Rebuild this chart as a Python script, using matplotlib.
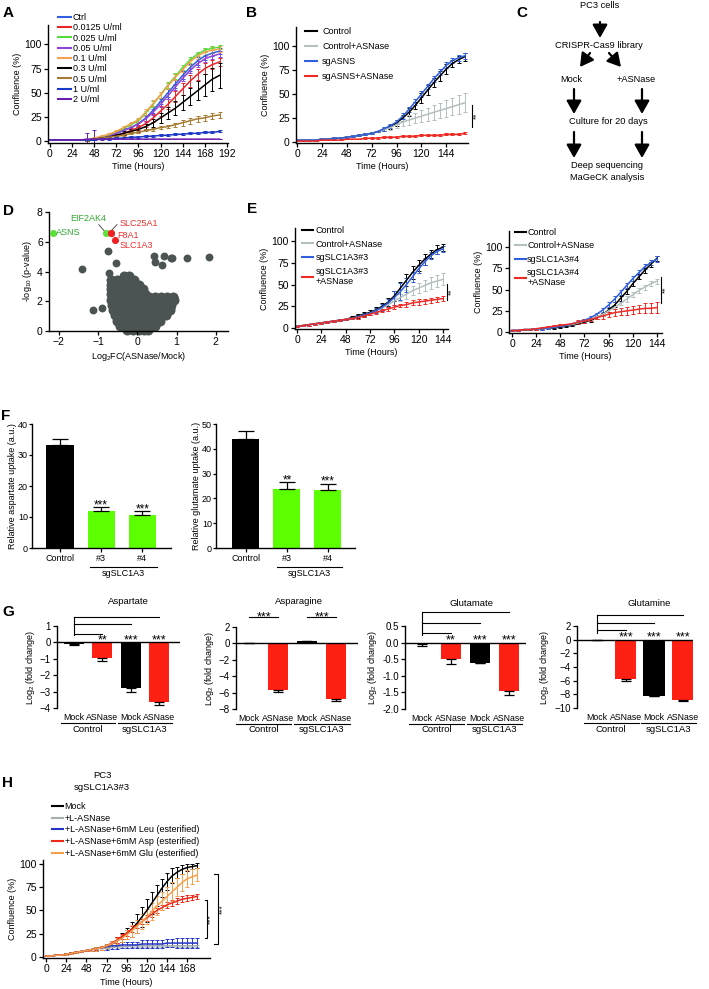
import numpy as np
import matplotlib.pyplot as plt
from matplotlib import transforms as mtrans

plt.rcParams['font.family'] = ['Liberation Sans', 'DejaVu Sans']
plt.rcParams['font.size'] = 6.5
plt.rcParams['mathtext.default'] = 'regular'
plt.rcParams['axes.linewidth'] = 1.0
plt.rcParams['xtick.major.width'] = 0.9
plt.rcParams['ytick.major.width'] = 0.9
plt.rcParams['xtick.major.size'] = 3
plt.rcParams['ytick.major.size'] = 3
plt.rcParams['xtick.major.pad'] = 1.5
plt.rcParams['ytick.major.pad'] = 1.5
plt.rcParams['xtick.labelsize'] = 7.5
plt.rcParams['ytick.labelsize'] = 7.5
plt.rcParams['axes.labelpad'] = 2

# ---------------- data ----------------
# A: dose response of ASNase
t_a = [0, 8, 16, 24, 32, 40, 48, 56, 64, 72, 80, 88, 96, 104, 112, 120, 128, 136, 144, 152, 160, 168, 176, 184]
doses = ['Ctrl', '0.0125 U/ml', '0.025 U/ml', '0.05 U/ml', '0.1 U/ml', '0.3 U/ml', '0.5 U/ml', '1 U/ml', '2 U/ml']
a_ctrl = [1, 1, 1, 1, 1, 1, 2, 3, 5, 8, 11, 14, 18, 24, 32, 41, 50, 59, 68, 76, 83, 88, 91, 93]
a_0125 = [1, 1, 1, 1, 1, 1, 2, 3, 4, 6, 8, 11, 14, 18, 24, 31, 38, 46, 54, 62, 69, 75, 79, 82]
a_025 = [1, 1, 1, 1, 1, 1, 2, 4, 6, 9, 13, 17, 21, 29, 38, 48, 58, 67, 76, 84, 90, 94, 96, 97]
a_05 = [1, 1, 1, 1, 1, 1, 2, 3, 5, 8, 11, 14, 18, 23, 30, 38, 47, 56, 65, 73, 80, 85, 88, 90]
a_1 = [1, 1, 1, 1, 1, 1, 3, 5, 7, 10, 14, 18, 22, 30, 39, 48, 57, 66, 74, 82, 88, 92, 94, 95]
a_3 = [1, 1, 1, 1, 1, 1, 2, 3, 4, 6, 8, 10, 12, 15, 19, 24, 29, 34, 40, 46, 52, 58, 64, 68]
a_5 = [1, 1, 1, 1, 1, 1, 2, 3, 4, 5, 6, 8, 9, 11, 12, 14, 15, 17, 19, 21, 23, 24, 26, 27]
a_10 = [1, 1, 1, 1, 1, 1, 1, 2, 2, 3, 3, 4, 4, 5, 5, 6, 6, 7, 7, 8, 8, 9, 9, 10]
a_20 = [1, 1, 1, 1, 1, 2, 2, 2, 2, 2, 2, 2, 2, 2, 2, 2, 2, 2, 2, 2, 2, 2, 2, 2]
ea_ctrl = [0, 0, 0, 0, 0, 1, 1, 1, 1, 1, 2, 2, 2, 3, 3, 3, 4, 4, 4, 4, 4, 4, 3, 3]
ea_0125 = [0, 0, 0, 0, 0, 1, 1, 1, 1, 1, 2, 2, 3, 3, 4, 5, 5, 6, 6, 6, 6, 6, 5, 4]
ea_025 = [0, 0, 0, 0, 0, 1, 1, 1, 1, 1, 1, 2, 2, 2, 3, 3, 3, 3, 3, 3, 2, 2, 2, 2]
ea_05 = [0, 0, 0, 0, 0, 1, 1, 1, 1, 1, 2, 2, 2, 3, 3, 3, 3, 3, 3, 3, 3, 3, 3, 3]
ea_1 = [0, 0, 0, 0, 0, 1, 1, 1, 1, 1, 2, 2, 2, 3, 3, 3, 3, 3, 3, 3, 3, 3, 3, 3]
ea_3 = [0, 0, 0, 0, 0, 1, 1, 1, 1, 1, 2, 2, 3, 3, 4, 5, 6, 7, 8, 9, 10, 11, 12, 13]
ea_5 = [0, 0, 0, 0, 0, 1, 1, 1, 1, 1, 1, 1, 1, 1, 2, 2, 2, 2, 3, 3, 3, 3, 3, 3]
ea_10 = [0, 0, 0, 0, 0, 0, 0, 0, 1, 1, 1, 1, 1, 1, 1, 1, 1, 1, 1, 1, 1, 1, 1, 1]
ea_20 = [0, 0, 0, 0, 0, 6, 9, 1, 0, 0, 0, 0, 0, 0, 0, 0, 0, 0, 0, 0, 0, 0, 0, 0]

# B: sgASNS
t_b = [0, 6, 12, 18, 24, 30, 36, 42, 48, 54, 60, 66, 72, 78, 84, 90, 96, 102, 108, 114, 120, 126, 132, 138, 144, 150, 156, 162]
b_labels = ['Control', 'Control+ASNase', 'sgASNS', 'sgASNS+ASNase']
b_ctrl = [2, 2, 2, 2, 3, 3, 4, 4, 5, 6, 7, 8, 9, 11, 13, 16, 20, 25, 31, 38, 46, 54, 62, 69, 76, 82, 86, 89]
b_ctrl_as = [2, 2, 2, 2, 3, 3, 4, 4, 5, 6, 7, 8, 9, 11, 13, 15, 18, 21, 23, 25, 27, 29, 31, 33, 35, 37, 39, 41]
b_sg = [2, 2, 2, 2, 3, 3, 4, 4, 5, 6, 7, 8, 9, 11, 14, 17, 21, 27, 34, 42, 50, 58, 66, 73, 80, 85, 88, 90]
b_sg_as = [1, 1, 1, 1, 2, 2, 2, 2, 3, 3, 3, 4, 4, 4, 5, 5, 5, 6, 6, 6, 7, 7, 7, 7, 8, 8, 8, 9]
eb_ctrl = [1, 1, 1, 1, 1, 1, 1, 1, 1, 1, 1, 1, 1, 1, 2, 2, 3, 3, 4, 4, 5, 5, 5, 5, 5, 4, 4, 4]
eb_ctrl_as = [1, 1, 1, 1, 1, 1, 1, 1, 1, 1, 1, 1, 1, 1, 2, 2, 3, 4, 5, 5, 6, 7, 8, 8, 9, 9, 10, 10]
eb_sg = [1, 1, 1, 1, 1, 1, 1, 1, 1, 1, 1, 1, 1, 1, 2, 2, 2, 3, 3, 3, 3, 3, 3, 3, 3, 3, 3, 3]
eb_sg_as = [0, 0, 0, 0, 0, 0, 0, 0, 0, 0, 0, 1, 1, 1, 1, 1, 1, 1, 1, 1, 1, 1, 1, 1, 1, 1, 1, 1]

# D: screen volcano
blob_rows = [
    (3.7, [-0.35, -0.22]),
    (3.4, [-0.66, -0.51, -0.36, -0.21, -0.08]),
    (3.1, [-0.68, -0.53, -0.38, -0.23, -0.08, 0.05]),
    (2.8, [-0.68, -0.53, -0.38, -0.23, -0.08, 0.07, 0.15]),
    (2.5, [-0.68, -0.53, -0.38, -0.23, -0.08, 0.07, 0.2]),
    (2.3, [0.3, 0.45, 0.6, 0.75, 0.9]),
    (2.1, [-0.67, -0.52, -0.37, -0.22, -0.07, 0.08, 0.23, 0.38, 0.53, 0.68, 0.83, 0.94]),
    (1.75, [-0.65, -0.5, -0.35, -0.2, -0.05, 0.1, 0.25, 0.4, 0.55, 0.7, 0.87]),
    (1.4, [-0.62, -0.47, -0.32, -0.17, -0.02, 0.13, 0.28, 0.43, 0.58, 0.72, 0.82]),
    (1.05, [-0.58, -0.43, -0.28, -0.13, 0.02, 0.17, 0.32, 0.47, 0.62, 0.72]),
    (0.7, [-0.52, -0.37, -0.22, -0.07, 0.08, 0.23, 0.38, 0.53, 0.58]),
    (0.35, [-0.45, -0.3, -0.15, 0.0, 0.15, 0.3, 0.45]),
    (0.05, [-0.27, -0.12, 0.03, 0.18, 0.27]),
]
out_fc = [-1.41, -0.74, -0.55, -0.72, -1.12, -0.9, 0.42, 0.45, 0.68, 0.62, 0.85, 1.27, 1.83, 0.88, 0.87, 0.93]
out_p = [4.2, 5.37, 4.54, 3.87, 1.41, 1.57, 5.03, 4.65, 5.03, 4.43, 4.93, 4.93, 4.99, 4.9, 1.52, 2.26]
green_genes = ['ASNS', 'EIF2AK4']
green_fc = [-2.15, -0.8]
green_p = [6.6, 6.6]
red_genes = ['SLC25A1', 'F8A1', 'SLC1A3']
red_fc = [-0.68, -0.66, -0.57]
red_p = [6.62, 6.58, 6.1]

# E: sgSLC1A3
t_e = [0, 6, 12, 18, 24, 30, 36, 42, 48, 54, 60, 66, 72, 78, 84, 90, 96, 102, 108, 114, 120, 126, 132, 138, 144]
e3_labels = ['Control', 'Control+ASNase', 'sgSLC1A3#3', 'sgSLC1A3#3\n+ASNase']
e4_labels = ['Control', 'Control+ASNase', 'sgSLC1A3#4', 'sgSLC1A3#4\n+ASNase']
e3_ctrl = [2, 3, 4, 5, 6, 7, 8, 9, 10, 12, 14, 16, 18, 21, 25, 30, 37, 46, 55, 64, 72, 79, 85, 90, 93]
e3_ctrl_as = [2, 3, 4, 5, 6, 7, 8, 9, 10, 11, 13, 15, 17, 20, 23, 27, 31, 35, 39, 43, 46, 49, 52, 54, 56]
e3_sg = [2, 3, 4, 5, 6, 7, 8, 9, 10, 11, 13, 15, 17, 20, 24, 29, 35, 42, 50, 59, 68, 76, 83, 88, 91]
e3_sg_as = [2, 3, 4, 5, 6, 7, 8, 9, 10, 11, 12, 14, 16, 18, 20, 22, 24, 26, 27, 29, 30, 31, 32, 33, 34]
ee3_ctrl = [1, 1, 1, 1, 1, 1, 1, 1, 1, 2, 2, 2, 3, 3, 4, 5, 6, 7, 7, 7, 6, 6, 5, 5, 4]
ee3_ctrl_as = [1, 1, 1, 1, 1, 1, 1, 1, 1, 1, 2, 2, 2, 2, 3, 3, 4, 4, 5, 5, 6, 6, 7, 7, 7]
ee3_sg = [1, 1, 1, 1, 1, 1, 1, 1, 1, 1, 2, 2, 2, 3, 4, 5, 8, 10, 8, 6, 5, 4, 4, 3, 3]
ee3_sg_as = [1, 1, 1, 1, 1, 1, 1, 1, 1, 1, 1, 1, 1, 2, 2, 2, 2, 2, 3, 3, 3, 3, 3, 3, 3]
e4_ctrl = [2, 2, 3, 3, 4, 4, 5, 5, 6, 7, 8, 10, 12, 14, 17, 21, 26, 32, 40, 48, 57, 65, 73, 80, 87]
e4_ctrl_as = [2, 2, 3, 3, 4, 4, 5, 6, 7, 8, 9, 11, 13, 15, 18, 21, 25, 29, 34, 39, 44, 49, 53, 57, 60]
e4_sg = [2, 2, 3, 3, 4, 4, 5, 6, 7, 8, 10, 12, 14, 17, 21, 26, 32, 39, 47, 55, 63, 70, 77, 82, 86]
e4_sg_as = [2, 2, 3, 3, 4, 5, 6, 7, 8, 9, 10, 12, 13, 15, 17, 19, 21, 23, 24, 25, 26, 27, 28, 28, 29]
ee4_ctrl = [1, 1, 1, 1, 1, 1, 1, 1, 1, 1, 1, 1, 1, 2, 2, 2, 2, 3, 3, 3, 3, 3, 3, 3, 3]
ee4_ctrl_as = [1, 1, 1, 1, 1, 1, 1, 1, 1, 1, 1, 1, 1, 1, 2, 2, 2, 2, 2, 3, 3, 3, 3, 3, 3]
ee4_sg = [1, 1, 1, 1, 1, 1, 1, 1, 1, 1, 1, 1, 2, 2, 2, 2, 3, 3, 3, 3, 3, 3, 3, 3, 3]
ee4_sg_as = [1, 1, 1, 1, 1, 1, 1, 1, 1, 1, 1, 2, 2, 2, 2, 3, 3, 4, 4, 5, 5, 5, 6, 6, 6]

# F: uptake
f_groups = ['Control', '#3', '#4']
asp_uptake = [33.3, 12.0, 10.7]
asp_uptake_err = [2.0, 1.3, 1.2]
asp_uptake_sig = ['', '***', '***']
glu_uptake = [44.0, 23.6, 23.2]
glu_uptake_err = [3.0, 3.0, 2.8]
glu_uptake_sig = ['', '**', '***']

# G: metabolite fold changes
g_conditions = ['Mock', 'ASNase', 'Mock', 'ASNase']
aspartate = [-0.08, -0.93, -2.8, -3.62]
aspartate_err = [0.05, 0.2, 0.2, 0.2]
asparagine = [0.0, -5.65, 0.25, -6.8]
asparagine_err = [0.03, 0.25, 0.08, 0.25]
glutamate = [-0.04, -0.49, -0.6, -1.45]
glutamate_err = [0.05, 0.15, 0.02, 0.12]
glutamine = [-0.05, -5.7, -8.2, -8.9]
glutamine_err = [0.03, 0.3, 0.05, 0.1]
g_sig = ['', '**', '***', '***']
glutamine_sig = ['', '***', '***', '***']

# H: rescue with esterified amino acids
t_h = [0, 6, 12, 18, 24, 30, 36, 42, 48, 54, 60, 66, 72, 78, 84, 90, 96, 102, 108, 114, 120, 126, 132, 138, 144, 150, 156, 162, 168, 174, 180]
h_labels = ['Mock', '+L-ASNase', '+L-ASNase+6mM Leu (esterified)', '+L-ASNase+6mM Asp (esterified)', '+L-ASNase+6mM Glu (esterified)']
h_mock = [1, 1, 2, 2, 3, 4, 5, 6, 7, 8, 9, 10, 12, 14, 17, 21, 25, 30, 36, 43, 50, 58, 66, 74, 81, 87, 91, 94, 96, 97, 98]
h_asn = [1, 1, 2, 2, 3, 4, 5, 6, 7, 8, 9, 9, 10, 10, 11, 11, 11, 12, 12, 12, 12, 12, 12, 12, 12, 12, 12, 12, 12, 12, 12]
h_leu = [1, 1, 2, 2, 3, 4, 5, 6, 7, 8, 9, 10, 11, 12, 12, 13, 13, 13, 13, 14, 14, 14, 14, 14, 15, 15, 15, 15, 15, 15, 15]
h_asp = [1, 1, 2, 2, 3, 4, 5, 6, 7, 8, 9, 10, 12, 15, 18, 22, 26, 30, 34, 38, 42, 46, 50, 53, 56, 58, 60, 62, 63, 64, 65]
h_glu = [1, 1, 2, 2, 3, 4, 5, 6, 7, 8, 9, 10, 12, 14, 17, 20, 24, 28, 33, 38, 43, 49, 55, 60, 65, 70, 75, 80, 84, 86, 88]
eh_mock = [0, 0, 0, 0, 1, 1, 1, 1, 1, 1, 2, 2, 2, 3, 4, 5, 6, 8, 10, 11, 12, 12, 11, 10, 9, 8, 6, 5, 4, 3, 3]
eh_asn = [0, 0, 0, 0, 0, 1, 1, 1, 1, 1, 1, 1, 1, 1, 1, 1, 1, 1, 1, 1, 1, 1, 1, 1, 1, 1, 1, 1, 1, 1, 1]
eh_leu = [0, 0, 0, 0, 0, 1, 1, 1, 1, 1, 2, 2, 3, 3, 3, 3, 3, 3, 3, 4, 4, 4, 4, 4, 4, 4, 5, 5, 5, 5, 5]
eh_asp = [0, 0, 0, 0, 1, 1, 1, 1, 1, 1, 1, 2, 2, 2, 3, 3, 3, 3, 3, 3, 3, 3, 3, 3, 3, 3, 3, 3, 3, 3, 3]
eh_glu = [0, 0, 0, 0, 1, 1, 1, 1, 1, 1, 2, 2, 2, 3, 3, 4, 5, 6, 7, 8, 8, 9, 10, 10, 10, 10, 10, 9, 9, 8, 7]

# colours
blue = '#2f5fdc'
red = '#ee2b24'
gray_c = '#b3c0be'
green_f = '#5cff00'
red_g = '#ff2014'
dose_colors = [blue, '#e8262a', '#55dd3c', '#8e44d8', '#f5a04a', 'black', '#a77c32', '#1c3ac8', '#6a1fb0']

W, H = 709, 989
fig = plt.figure(figsize=(W / 100, H / 100), dpi=100)


def px_axes(l, t, r, b):
    return fig.add_axes([l / W, 1 - b / H, (r - l) / W, (b - t) / H])


def clean(ax):
    ax.spines[['top', 'right']].set_visible(False)


def under(ax, dy):
    # x in data, y = dy pixels below the bottom of the axes
    base = mtrans.blended_transform_factory(ax.transData, ax.transAxes)
    return base + mtrans.ScaledTranslation(0, -dy / 100, fig.dpi_scale_trans)


def growth(ax, t, ys, es, cols):
    hs = []
    for y, e, c in zip(ys, es, cols):
        eb = ax.errorbar(t, y, yerr=e, color=c, lw=1.1, elinewidth=0.7, capsize=1.3, capthick=0.7)
        hs.append(eb[0])
    clean(ax)
    ax.set_xlabel('Time (Hours)')
    ax.set_ylabel('Confluence (%)')
    return hs


def key(ax, hs, labels, x, y, spacing, hl=1.3, pad=0.35):
    leg = ax.legend(hs, labels, loc='upper left', bbox_to_anchor=(x / W, 1 - y / H),
                    bbox_transform=fig.transFigure, frameon=False, borderpad=0, borderaxespad=0,
                    handlelength=hl, handletextpad=pad, labelspacing=spacing, fontsize=6.5)
    for ln in leg.get_lines():
        ln.set_linewidth(1.5)


def side_mark(ax, x, y0, y1, txt, sx, tick=0):
    ax.plot([x - tick, x, x, x - tick], [y0, y0, y1, y1], color='k', lw=0.8, clip_on=False)
    ax.text(sx, (y0 + y1) / 2, txt, rotation=90, ha='center', va='center', fontsize=6)


# ---------------- A ----------------
ax = px_axes(48, 25, 228, 143)
hs = growth(ax, t_a, [a_ctrl, a_0125, a_025, a_05, a_1, a_3, a_5, a_10, a_20],
            [ea_ctrl, ea_0125, ea_025, ea_05, ea_1, ea_3, ea_5, ea_10, ea_20], dose_colors)
ax.set_xlim(-2, 193)
ax.set_ylim(-2, 120)
ax.set_xticks([0, 24, 48, 72, 96, 120, 144, 168, 192])
ax.set_yticks([0, 25, 50, 75, 100])
key(ax, hs, doses, 58, 13, 0.14, hl=1.4, pad=0.25)

# ---------------- B ----------------
ax = px_axes(296, 27, 468, 143)
hs = growth(ax, t_b, [b_ctrl, b_ctrl_as, b_sg, b_sg_as], [eb_ctrl, eb_ctrl_as, eb_sg, eb_sg_as],
            ['black', gray_c, blue, red])
ax.set_xlim(-1, 165)
ax.set_ylim(-1, 120)
ax.set_xticks([0, 24, 48, 72, 96, 120, 144])
ax.set_yticks([0, 25, 50, 75, 100])
key(ax, hs, b_labels, 305, 27, 0.68, hl=1.35, pad=0.55)
side_mark(ax, 169, 38.5, 15.6, '**', 173.5)

# ---------------- D ----------------
ax = px_axes(49, 212, 228, 331)
bx = [x for y, xs in blob_rows for x in xs]
by = [y for y, xs in blob_rows for x in xs]
dark = '#4b5452'
ax.scatter(bx, by, s=52, color=dark, lw=0, clip_on=False)
ax.scatter(out_fc, out_p, s=32, color=dark, lw=0)
ax.scatter(green_fc, green_p, s=26, color='#5ce03a', lw=0, zorder=3)
ax.scatter(red_fc, red_p, s=26, color='#ee2222', lw=0, zorder=3)
ax.set_xlim(-2.25, 2.31)
ax.set_ylim(0, 8)
ax.set_xticks([-2, -1, 0, 1, 2])
ax.set_yticks([0, 2, 4, 6, 8])
clean(ax)
ax.set_xlabel('Log$_2$FC(ASNase/Mock)')
ax.set_ylabel('-log$_{10}$ (p-value)')
gtxt = '#33a532'
rtxt = '#ee3030'
ax.text(-2.07, 6.6, green_genes[0], color=gtxt, fontsize=6.5, va='center', ha='left')
ax.text(-1.26, 7.58, green_genes[1], color=gtxt, fontsize=6.5, va='center', ha='center')
ax.text(-0.45, 7.25, red_genes[0], color=rtxt, fontsize=6.5, va='center', ha='left')
ax.text(-0.52, 6.44, red_genes[1], color=rtxt, fontsize=6.5, va='center', ha='left')
ax.text(-0.46, 5.77, red_genes[2], color=rtxt, fontsize=6.5, va='center', ha='left')
ax.plot([-0.98, -0.84], [7.15, 6.72], color='#333333', lw=0.6)
ax.plot([-0.7, -0.52], [6.64, 7.15], color='#333333', lw=0.6)

# ---------------- E ----------------
ax = px_axes(295, 228, 448, 329)
hs = growth(ax, t_e, [e3_ctrl, e3_ctrl_as, e3_sg, e3_sg_as], [ee3_ctrl, ee3_ctrl_as, ee3_sg, ee3_sg_as],
            ['black', gray_c, blue, red])
ax.set_xlim(-2, 149)
ax.set_ylim(-1, 115)
ax.set_xticks([0, 24, 48, 72, 96, 120, 144])
ax.set_yticks([0, 25, 50, 75, 100])
key(ax, hs, e3_labels, 302, 226, 0.5, hl=1.2, pad=0.3)
side_mark(ax, 148, 50.6, 32, '**', 153)

ax = px_axes(509, 231, 662, 333)
hs = growth(ax, t_e, [e4_ctrl, e4_ctrl_as, e4_sg, e4_sg_as], [ee4_ctrl, ee4_ctrl_as, ee4_sg, ee4_sg_as],
            ['black', gray_c, blue, red])
ax.set_xlim(-3, 149)
ax.set_ylim(-1, 119)
ax.set_xticks([0, 24, 48, 72, 96, 120, 144])
ax.set_yticks([0, 25, 50, 75, 100])
key(ax, hs, e4_labels, 515, 228, 0.48, hl=1.2, pad=0.15)
side_mark(ax, 148, 65, 34, '**', 152.5)


# ---------------- F ----------------
def uptake(ax, vals, errs, sig, ylim, yticks, ylabel, x0, x1):
    x = np.arange(3)
    ax.bar(x, vals, width=0.66, color=['black', green_f, green_f], yerr=[[0, 0, 0], errs],
           capsize=5.5, error_kw=dict(lw=0.9, capthick=0.9))
    for xi, v, e, s in zip(x, vals, errs, sig):
        ax.text(xi, v + e - 0.4, s, ha='center', va='baseline', fontsize=8.5)
    clean(ax)
    ax.set_ylim(*ylim)
    ax.set_yticks(yticks)
    ax.set_xticks(x)
    ax.set_xticklabels(f_groups)
    ax.tick_params(labelsize=6.5)
    ax.tick_params(axis='y', length=2.5, pad=0.5)
    ax.set_ylabel(ylabel, fontsize=6.5, labelpad=0.5)
    ax.plot([x0, x1], [0, 0], transform=under(ax, 19), color='k', lw=0.8, clip_on=False)
    ax.text((x0 + x1) / 2, 0, 'sgSLC1A3', transform=under(ax, 26), ha='center', va='center', fontsize=6.5)


ax = px_axes(32, 424, 171, 548)
ax.set_xlim(-0.68, 2.7)
uptake(ax, asp_uptake, asp_uptake_err, asp_uptake_sig, (0, 40), [0, 10, 20, 30, 40],
       'Relative aspartate uptake (a.u.)', 0.73, 2.35)
ax = px_axes(216, 424, 355, 548)
ax.set_xlim(-0.73, 2.66)
uptake(ax, glu_uptake, glu_uptake_err, glu_uptake_sig, (0, 50), [0, 10, 20, 30, 40, 50],
       'Relative glutamate uptake (a.u.)', 0.76, 2.34)


# ---------------- G ----------------
def fold(ax, vals, errs, ylim, yticks, width):
    x = np.arange(4)
    lo = [e if v < 0 else 0 for v, e in zip(vals, errs)]
    hi = [0 if v < 0 else e for v, e in zip(vals, errs)]
    ax.bar(x, vals, width=width, color=['black', red_g, 'black', red_g], yerr=[lo, hi],
           capsize=3.5, error_kw=dict(lw=0.9, capthick=0.9), zorder=2)
    ax.axhline(0, color='k', lw=1.0, zorder=3)
    ax.set_ylim(*ylim)
    ax.set_yticks(yticks)
    ax.spines[['top', 'right', 'bottom']].set_visible(False)
    ax.set_xticks(x)
    ax.set_xticklabels(g_conditions)
    ax.tick_params(axis='x', length=0, pad=3.5, labelsize=6.3)
    ax.tick_params(axis='y', labelsize=7)
    ax.set_ylabel('Log$_2$ (fold change)')
    for a, b, name in [(-0.5, 1.5, 'Control'), (1.5, 3.5, 'sgSLC1A3')]:
        ax.plot([a + 0.04, b - 0.04], [0, 0], transform=under(ax, 15), color='k', lw=0.8, clip_on=False)
        ax.text((a + b) / 2, 0, name, transform=under(ax, 21), ha='center', va='center', fontsize=6.8)


def ladder(ax, levels, vbot):
    # comparisons against the first bar
    ax.plot([0, 0], [levels[0], vbot], color='k', lw=0.8, clip_on=False)
    for lev, end in zip(levels, [3, 2, 1]):
        ax.plot([0, end], [lev, lev], color='k', lw=0.8, clip_on=False)


def stars(ax, sig, y):
    for xi, s in enumerate(sig):
        ax.text(xi, y, s, ha='center', va='baseline', fontsize=9)


ax = px_axes(57, 626, 180, 708)
ax.set_xlim(-0.6, 3.74)
fold(ax, aspartate, aspartate_err, (-4, 1), [-4, -3, -2, -1, 0, 1], 0.7)
ladder(ax, [1.55, 1.12, 0.51], 0.45)
stars(ax, g_sig, -0.06)

ax = px_axes(236, 627, 358, 709)
ax.set_xlim(-0.45, 3.75)
fold(ax, asparagine, asparagine_err, (-8, 2), [-8, -6, -4, -2, 0, 2], 0.7)
for a, b in [(0, 1), (2, 3)]:
    ax.plot([a, b], [3.2, 3.2], color='k', lw=0.8, clip_on=False)
    ax.text((a + b) / 2, 2.75, '***', ha='center', va='baseline', fontsize=9)

ax = px_axes(405, 626, 526, 709)
ax.set_xlim(-0.6, 3.6)
fold(ax, glutamate, glutamate_err, (-2, 0.5), [-2.0, -1.5, -1.0, -0.5, 0.0, 0.5], 0.68)
ax.set_yticklabels(['-2.0', '-1.5', '-1.0', '-0.5', '0.0', '0.5'])
ladder(ax, [0.92, 0.59, 0.29], 0.23)
stars(ax, g_sig, -0.03)

ax = px_axes(577, 626, 693, 708)
ax.set_xlim(-0.7, 3.36)
fold(ax, glutamine, glutamine_err, (-10, 2), [-10, -8, -6, -4, -2, 0, 2], 0.76)
ladder(ax, [3.6, 2.45, 1.4], 1.0)
stars(ax, glutamine_sig, -0.15)

# ---------------- H ----------------
ax = px_axes(43, 860, 210, 958)
hs = growth(ax, t_h, [h_mock, h_asn, h_leu, h_asp, h_glu], [eh_mock, eh_asn, eh_leu, eh_asp, eh_glu],
            ['black', '#a4aeae', '#2435c8', '#ee2a1a', '#f7a04a'])
ax.set_xlim(-3.6, 195)
ax.set_ylim(-1, 104)
ax.set_xticks([0, 24, 48, 72, 96, 120, 144, 168])
ax.set_yticks([0, 25, 50, 75, 100])
ax.xaxis.labelpad = 3
key(ax, hs, h_labels, 52, 802, 0.3, hl=1.2, pad=0.2)
side_mark(ax, 205, 89, 14, '***', 210, tick=5)
side_mark(ax, 192, 61, 20, '***', 196.5, tick=3)

# ---------------- overlay: letters, titles, scheme C ----------------
ov = fig.add_axes([0, 0, 1, 1])
ov.set_xlim(0, W)
ov.set_ylim(H, 0)
ov.axis('off')
for letter, x, y in [('A', 3, 13), ('B', 246, 13), ('C', 516, 13), ('D', 3, 211), ('E', 247, 209),
                     ('F', 1, 416), ('G', 2, 612), ('H', 2, 783)]:
    ov.text(x, y, letter, fontsize=11, fontweight='bold', va='center', ha='left')

for txt, x, y in [('Aspartate', 128, 602), ('Asparagine', 299, 601), ('Glutamate', 472, 603),
                  ('Glutamine', 649, 604), ('PC3', 102, 775), ('sgSLC1A3#3', 102, 787)]:
    ov.text(x, y, txt, ha='center', va='center', fontsize=6.8)

for txt, x, y in [('PC3 cells', 600, 5), ('CRISPR-Cas9 library', 599, 45), ('Mock', 571, 80),
                  ('+ASNase', 636, 80), ('Culture for 20 days', 608, 122), ('Deep sequencing', 607, 166),
                  ('MaGeCK analysis', 607, 177)]:
    ov.text(x, y, txt, ha='center', va='center', fontsize=6.7)

arrows_c = [((600, 22), (600, 38)), ((590, 53), (580, 67)), ((609, 53), (621, 67)),
            ((574, 89), (574, 114)), ((642, 89), (642, 114)), ((574, 132), (574, 158)),
            ((642, 132), (642, 158))]
for (x0, y0), (x1, y1) in arrows_c:
    ov.annotate('', xy=(x1, y1), xytext=(x0, y0),
                arrowprops=dict(arrowstyle='-|>,head_length=0.8,head_width=0.45', color='k',
                                lw=1.6, shrinkA=0, shrinkB=0, mutation_scale=10))

fig.savefig('out.png', dpi=100)
